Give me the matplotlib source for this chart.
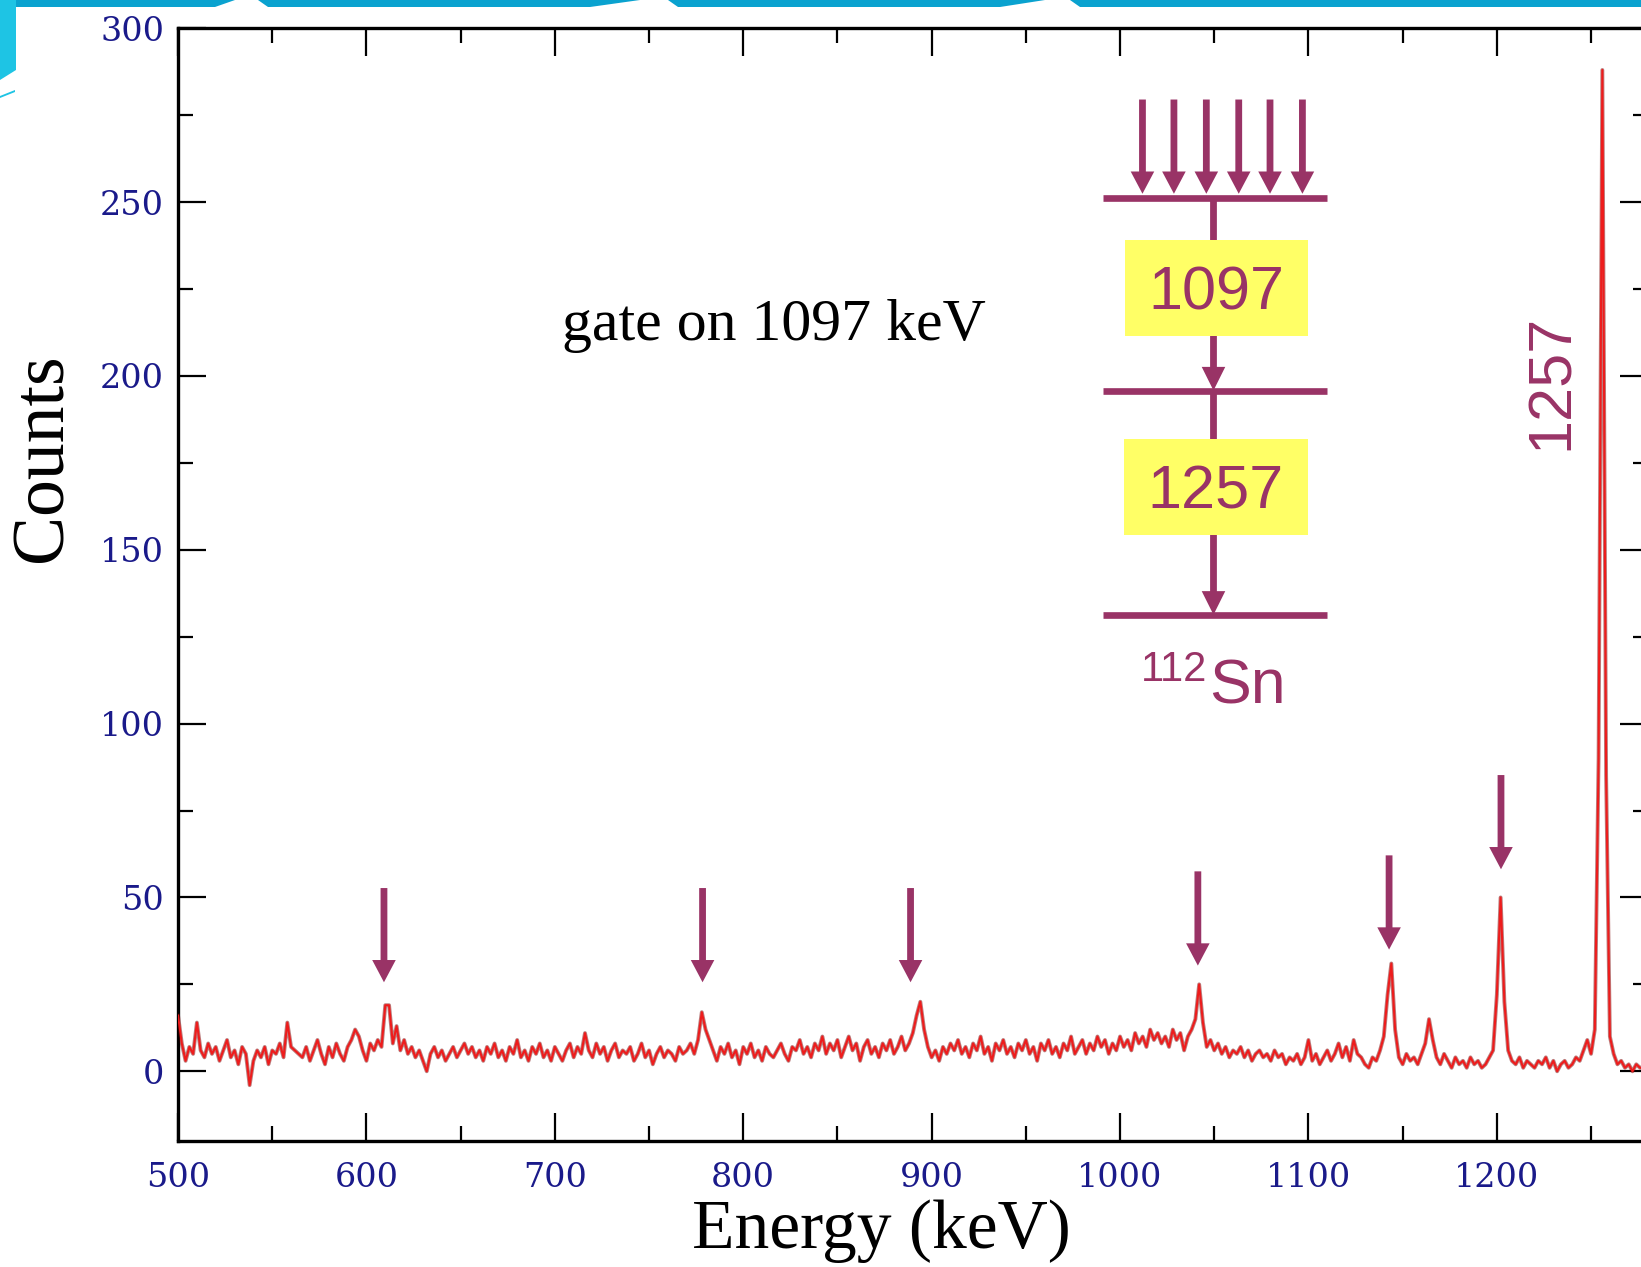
import numpy as np
import matplotlib
matplotlib.use("Agg")
import matplotlib.pyplot as plt
from matplotlib.patches import FancyArrow, Rectangle, Polygon
from matplotlib.ticker import MultipleLocator

# ---------------- data ----------------
energy_start, energy_step = 500, 2   # keV, bin width
counts = [
    16, 8, 3, 7, 5, 14, 6, 4, 8, 5, 7, 3, 6, 9, 4, 6, 2, 7, 5, -4,
    3, 6, 4, 7, 2, 6, 5, 8, 4, 14, 7, 6, 5, 4, 7, 3, 6, 9, 5, 2,
    7, 4, 8, 5, 3, 7, 9, 12, 10, 6, 3, 8, 6, 9, 7, 19, 19, 8, 13, 6,
    9, 5, 7, 4, 6, 3, 0, 5, 7, 4, 6, 3, 5, 7, 4, 6, 8, 5, 7, 4,
    6, 3, 7, 5, 8, 4, 6, 3, 7, 5, 9, 4, 6, 3, 7, 5, 8, 4, 6, 3,
    7, 5, 3, 6, 8, 4, 7, 5, 11, 6, 4, 8, 5, 7, 3, 6, 8, 4, 6, 5,
    7, 3, 5, 8, 4, 6, 2, 5, 7, 4, 6, 5, 3, 7, 5, 6, 8, 5, 9, 17,
    12, 9, 6, 3, 7, 5, 8, 4, 6, 2, 7, 5, 8, 4, 6, 3, 7, 5, 4, 6,
    8, 5, 3, 7, 6, 9, 5, 7, 4, 8, 6, 10, 5, 8, 6, 9, 4, 7, 10, 6,
    8, 3, 7, 9, 5, 7, 4, 8, 6, 9, 5, 7, 10, 6, 8, 11, 16, 20, 12, 7,
    4, 6, 3, 7, 5, 8, 6, 9, 5, 7, 4, 8, 6, 10, 5, 7, 3, 8, 6, 9,
    5, 7, 4, 8, 6, 9, 5, 7, 3, 8, 6, 9, 5, 7, 4, 8, 6, 10, 5, 7,
    9, 5, 8, 6, 10, 7, 9, 5, 8, 6, 10, 7, 9, 6, 11, 8, 10, 7, 12, 9,
    11, 8, 10, 7, 12, 9, 11, 6, 10, 12, 15, 25, 14, 7, 9, 6, 8, 5, 7, 4,
    6, 5, 7, 4, 6, 3, 5, 6, 4, 5, 3, 6, 4, 5, 2, 4, 3, 5, 2, 4,
    9, 3, 5, 2, 4, 6, 3, 5, 8, 4, 7, 3, 9, 5, 4, 2, 1, 4, 3, 6,
    10, 22, 31, 12, 4, 2, 5, 3, 4, 2, 5, 8, 15, 9, 4, 2, 5, 3, 1, 4,
    2, 3, 1, 4, 2, 3, 1, 2, 4, 6, 22, 50, 20, 6, 3, 2, 4, 1, 3, 2,
    1, 3, 2, 4, 1, 3, 0, 2, 3, 1, 2, 4, 3, 6, 9, 5, 12, 90, 288, 85,
    10, 5, 2, 3, 1, 2, 0, 2, 1, 1,
]
energies = energy_start + energy_step * np.arange(len(counts))

# peaks in coincidence (marked with arrows) and arrow tip heights (counts)
gated_peak_energies = [609.3, 778.4, 888.8, 1041.3, 1142.8, 1202.2]
gated_arrow_tips = [25.6, 25.6, 25.6, 30.4, 35.0, 58.1]

x_ticks = [500, 600, 700, 800, 900, 1000, 1100, 1200]
y_ticks = [0, 50, 100, 150, 200, 250, 300]

gate_label = "gate on 1097 keV"
transition_labels = ["1097", "1257"]
nucleus_mass, nucleus_symbol = "112", "Sn"
peak_label = "1257"

# ---------------- style ----------------
purple = "#993366"
navy = "#1a1a8a"
yellow = "#ffff66"
serif = ["Liberation Serif", "DejaVu Serif"]
sans = ["Liberation Sans", "DejaVu Sans"]

W, H = 1641, 1267
fig = plt.figure(figsize=(W / 100, H / 100), dpi=100)
fig.patch.set_facecolor("white")

ax = fig.add_axes([0.1085, 0.0996, 1.004 - 0.1085, 0.9777 - 0.0996])
ax.set_xlim(500, 1280)
ax.set_ylim(-20, 300)

# spectrum
ax.plot(energies, counts, color="#7a0000", lw=2.8, alpha=0.5, zorder=3)
ax.plot(energies, counts, color="#ee1c1c", lw=1.5, zorder=4)

# axes styling
for s in ax.spines.values():
    s.set_linewidth(2.4)
    s.set_color("black")
ax.xaxis.set_major_locator(MultipleLocator(100))
ax.xaxis.set_minor_locator(MultipleLocator(50))
ax.yaxis.set_major_locator(MultipleLocator(50))
ax.yaxis.set_minor_locator(MultipleLocator(25))
ax.set_xticks(x_ticks)
ax.set_xticklabels([str(v) for v in x_ticks])
ax.set_yticks(y_ticks)
ax.set_yticklabels([str(v) for v in y_ticks])
ax.tick_params(which="both", direction="in", top=True, right=True, width=1.6, color="black")
ax.tick_params(which="major", length=20)
ax.tick_params(which="minor", length=11)
ax.tick_params(axis="x", which="major", pad=15, labelsize=24, labelcolor=navy)
ax.tick_params(axis="y", which="major", pad=10, labelsize=24, labelcolor=navy)
for lab in ax.get_xticklabels() + ax.get_yticklabels():
    lab.set_fontfamily(["DejaVu Serif"])

# axis labels
fig.text(44 / W, 1 - 458 / H, "Counts", rotation=90, ha="center", va="center",
         fontsize=53, family=serif, color="black")
fig.text(881 / W, 1 - 1231 / H, "Energy (keV)", ha="center", va="center",
         fontsize=50, family=serif, color="black")

# gate label
ax.text(816, 210.3, gate_label, ha="center", va="baseline", fontsize=43,
        family=serif, color="black", zorder=5)

# arrows marking coincident peaks
arrow_len = 27.1
for e, tip in zip(gated_peak_energies, gated_arrow_tips):
    ax.add_patch(FancyArrow(e, tip + arrow_len, 0, -arrow_len, width=3.6,
                            head_width=12.5, head_length=6.4,
                            length_includes_head=True, color=purple, lw=0, zorder=6))

# ---------------- level scheme ----------------
lvl_x0, lvl_x1 = 991, 1110
lvl_top, lvl_mid, lvl_gs = 251.2, 195.8, 131.3
trans_x = 1049.6
for ly in (lvl_top, lvl_mid, lvl_gs):
    ax.plot([lvl_x0, lvl_x1], [ly, ly], color=purple, lw=4.8,
            solid_capstyle="butt", zorder=6)
feeding_x = [1011.9, 1028.6, 1045.8, 1063.0, 1079.6, 1096.8]
for fx in feeding_x:
    ax.add_patch(FancyArrow(fx, 279.5, 0, -(279.5 - 252.4), width=3.6,
                            head_width=12.5, head_length=6.4,
                            length_includes_head=True, color=purple, lw=0, zorder=6))
for y0, y1 in ((lvl_top, lvl_mid), (lvl_mid, lvl_gs)):
    ax.add_patch(FancyArrow(trans_x, y0, 0, -(y0 - y1), width=3.6,
                            head_width=12.5, head_length=6.8,
                            length_includes_head=True, color=purple, lw=0, zorder=6))
boxes = [(1002.5, 211.4, 1099.6, 239.2), (1002.0, 154.2, 1099.6, 181.9)]
for (bx0, by0, bx1, by1), lab in zip(boxes, transition_labels):
    ax.add_patch(Rectangle((bx0, by0), bx1 - bx0, by1 - by0, facecolor=yellow,
                           edgecolor="none", zorder=7))
    ax.text((bx0 + bx1) / 2, (by0 + by1) / 2 - 1.8, lab, ha="center", va="center",
            fontsize=44, family=sans, color=purple, zorder=8)
ax.text(1047.4, 105.7, nucleus_symbol, ha="left", va="baseline", fontsize=45,
        family=sans, color=purple, zorder=8)
ax.text(1046.3, 112.3, nucleus_mass, ha="right", va="baseline", fontsize=30,
        family=sans, color=purple, zorder=8)

# peak label
ax.text(1229.3, 198.2, peak_label, rotation=90, ha="center", va="center",
        fontsize=44, family=sans, color=purple, zorder=8)

# ---------------- slide decoration (top band) ----------------
def px(x, y):
    return (x / W, 1 - y / H)

band_segments = [(0, 215, 235), (258, 590, 640), (668, 1000, 1045), (1070, 1641, 1641)]
for xs, xe, xe2 in band_segments:
    poly = Polygon([px(xs, 0), px(xe2, 0), px(xe, 7), px(xs + 10, 7)],
                   closed=True, transform=fig.transFigure, facecolor="#0aa2cf",
                   edgecolor="none", zorder=10)
    fig.add_artist(poly)
fig.add_artist(Polygon([px(0, 0), px(16, 0), px(16, 70), px(0, 80)], closed=True,
                       transform=fig.transFigure, facecolor="#1ec4e4",
                       edgecolor="none", zorder=10))
fig.add_artist(Polygon([px(0, 96), px(15, 90), px(15, 92), px(0, 98)], closed=True,
                       transform=fig.transFigure, facecolor="#1ec4e4",
                       edgecolor="none", zorder=10))

fig.savefig("out.png", dpi=100, facecolor="white")
